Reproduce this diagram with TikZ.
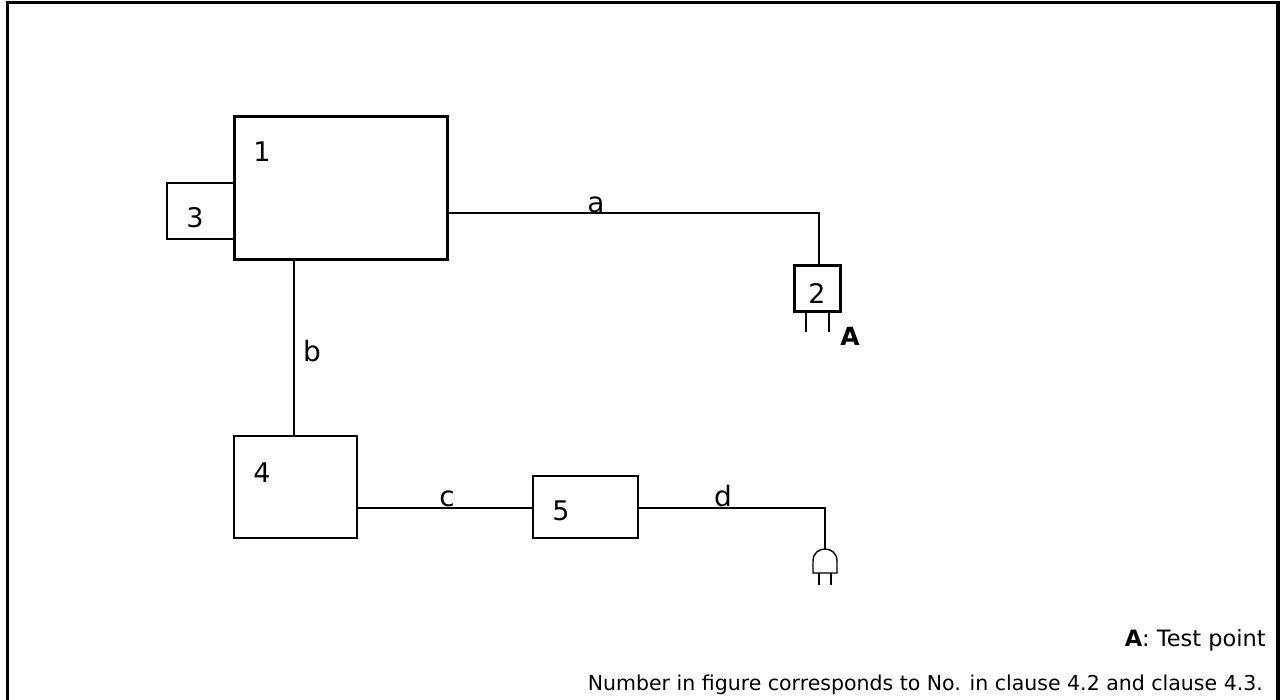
\documentclass[tikz,border=0pt]{standalone}
\usepackage{fontspec}
\setmainfont{DejaVu Sans}
\begin{document}
\begin{tikzpicture}[x=1pt,y=-1pt,
  thinbox/.style={draw,line width=1.4pt,minimum width=#1,inner sep=0pt,outer sep=0pt},
  thickbox/.style={draw,line width=3pt,inner sep=0pt,outer sep=0pt},
  wire/.style={line width=1.4pt},
  num/.style={anchor=base,font=\fontsize{27}{30}\selectfont,inner sep=0pt},
  lbl/.style={anchor=base,font=\fontsize{28}{32}\selectfont,inner sep=0pt}]
\useasboundingbox (0,0) rectangle (1284,699);
% outer frame
\draw[line width=3.5pt] (7.5,710) -- (7.5,2.5) -- (1278,2.5) -- (1278,710);
% boxes
\node[thickbox,minimum width=213pt,minimum height=143pt] (b1) at (340.5,187.5) {};
\node[thinbox=67pt,minimum height=56pt] (b3) at (200.5,211) {};
\node[thinbox=123pt,minimum height=102pt] (b4) at (295.5,487) {};
\node[thinbox=105pt,minimum height=62pt] (b5) at (585.5,507) {};
\node[thickbox,minimum width=46pt,minimum height=46pt] (b2) at (817,288) {};
% numbers
\node[num] (n1) at (262,161) {1};
\node[num] (n3) at (195,227) {3};
\node[num] (n4) at (262,482) {4};
\node[num] (n5) at (561,520) {5};
\node[num] (n2) at (817,303) {2};
\node[num,font=\fontsize{25}{28}\selectfont\bfseries] (nA) at (850,345) {A};
% connectors
\coordinate (ya) at (0,213);
\coordinate (xb) at (294,0);
\coordinate (yc) at (0,508);
\coordinate (da) at (819,213);
\coordinate (dd) at (825,508);
\coordinate (plugtop) at (825,549);
\draw[wire] (b1.east |- ya) -- (da) -- (b2.north -| da);
\draw[wire] (b1.south -| xb) -- (b4.north -| xb);
\draw[wire] (b4.east |- yc) -- (b5.west |- yc);
\draw[wire] (b5.east |- yc) -- (dd) -- (plugtop);
% plug 2 pins
\draw[wire,line width=2.6pt] (806,311) -- (806,332);
\draw[wire,line width=2.6pt] (829,311) -- (829,332);
% mains plug
\draw[wire] (813,573) -- (813,561) .. controls (813,545) and (837,545) .. (837,561) -- (837,573) -- cycle;
\draw[wire] (819,573) -- (819,585);
\draw[wire] (831,573) -- (831,585);
% connector labels
\node[lbl] (la) at (596,212) {a};
\node[lbl] (lb) at (312,361) {b};
\node[lbl] (lc) at (447,506) {c};
\node[lbl] (ld) at (723,506) {d};
% legend
\node[anchor=base east,font=\fontsize{22.5}{26}\selectfont,inner sep=0pt] (leg) at (1266,646) {\textbf{A}: Test point};
\node[anchor=base east,font=\fontsize{20.5}{24}\selectfont,inner sep=0pt] (note) at (1263,690) {Number in figure corresponds to No. in clause 4.2 and clause 4.3.};
\end{tikzpicture}
\end{document}
